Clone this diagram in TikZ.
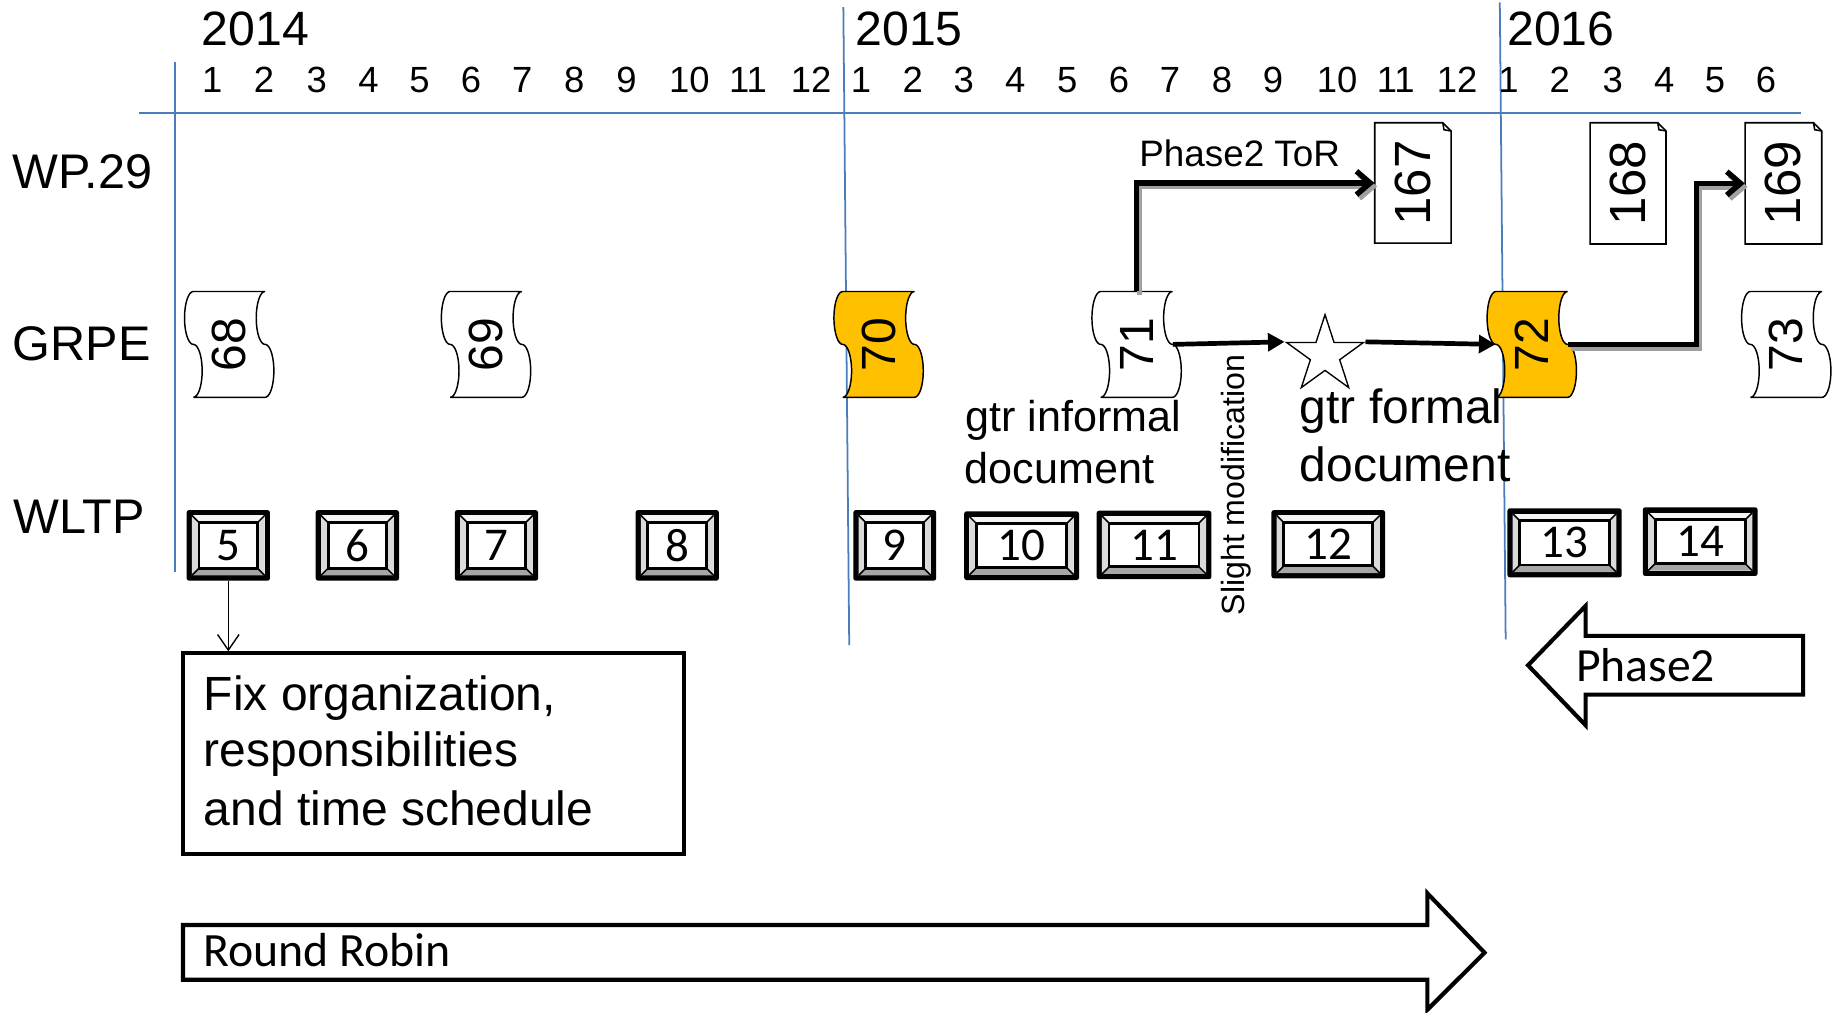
\documentclass[tikz,border=0pt]{standalone}
\usepackage{fontspec}
\setmainfont{Liberation Sans}
\newfontfamily\calfont{Carlito}
\usepackage{graphicx}
\usetikzlibrary{arrows.meta,shapes.geometric}
\definecolor{gridblue}{HTML}{4A7EBB}
\definecolor{docorange}{HTML}{FFC000}
\definecolor{shadowgray}{HTML}{A0A0A0}
\definecolor{bevlight}{HTML}{F4F4F4}
\definecolor{bevmid}{HTML}{DADADA}
\definecolor{bevdark}{HTML}{A6A6A6}

% punched-tape document (GRPE sessions): name, centre x, fill, label
% each wavy side is two half-ellipses (outward, then inward)
\newcommand{\tapedoc}[4]{%
  \filldraw[tapeline, fill=#3] (#2-30.5,248) -- (#2+30.5,248)
    -- plot[domain=0:180, samples=25, smooth, variable=\t] ({#2+30.5-7.5*sin(\t)},{248+22.5*(1-cos(\t))})
    -- plot[domain=0:180, samples=25, smooth, variable=\t] ({#2+30.5+7.5*sin(\t)},{293+22.5*(1-cos(\t))})
    -- (#2-30.5,338)
    -- plot[domain=0:180, samples=25, smooth, variable=\t] ({#2-30.5+7.5*sin(\t)},{338-22.5*(1-cos(\t))})
    -- plot[domain=0:180, samples=25, smooth, variable=\t] ({#2-30.5-7.5*sin(\t)},{293-22.5*(1-cos(\t))})
    -- cycle;
  \node[tapebox] (#1) at (#2,293) {\rotatebox{90}{#4}};
}
% note document (WP.29 sessions): name, x1, y1, x2, y2, label
\newcommand{\notedoc}[6]{%
  \filldraw[noteline, fill=white] (#2,#3) -- (#4-7,#3) -- (#4,#3+7) -- (#4,#5) -- (#2,#5) -- cycle;
  \draw[noteline] (#4-7,#3) -- (#4-6,#3+6) -- (#4,#3+7);
  \node[notebox, minimum width={(#4-#2)*0.6pt}, minimum height={(#5-#3)*0.6pt}] (#1) at ({(#2+#4)/2},{(#3+#5)/2}) {\rotatebox{90}{#6}};
}
% bevelled box (WLTP sessions): name, x1, y1, x2, y2, label
\newcommand{\wbox}[6]{%
  \fill[black, rounded corners=1.2pt] (#2,#3) rectangle (#4,#5);
  \fill[bevlight] (#2+4.5,#3+4.5) rectangle (#4-4.5,#5-4.5);
  \fill[bevmid] (#2+4.5,#3+4.5) -- (#2+10.5,#3+10.5) -- (#2+10.5,#5-10.5) -- (#2+4.5,#5-4.5) -- cycle;
  \fill[bevmid] (#4-4.5,#3+4.5) -- (#4-10.5,#3+10.5) -- (#4-10.5,#5-10.5) -- (#4-4.5,#5-4.5) -- cycle;
  \fill[bevdark] (#2+4.5,#5-4.5) -- (#2+10.5,#5-10.5) -- (#4-10.5,#5-10.5) -- (#4-4.5,#5-4.5) -- cycle;
  \draw[line width=0.8pt] (#2+4.5,#3+4.5) -- (#2+10.5,#3+10.5) (#4-4.5,#3+4.5) -- (#4-10.5,#3+10.5)
        (#2+4.5,#5-4.5) -- (#2+10.5,#5-10.5) (#4-4.5,#5-4.5) -- (#4-10.5,#5-10.5);
  \draw[line width=1.5pt, fill=white] (#2+10.5,#3+10.5) rectangle (#4-10.5,#5-10.5);
  \node[wnum, minimum width={(#4-#2)*0.6pt}, minimum height={(#5-#3)*0.6pt}] (#1) at ({(#2+#4)/2},{(#3+#5)/2}) {#6};
}

\begin{document}
\begin{tikzpicture}[x=0.6pt, y=-0.6pt,
  yearlbl/.style={font=\fontsize{24.6}{28}\selectfont, inner sep=0pt, anchor=west},
  monthlbl/.style={font=\fontsize{18.6}{22}\selectfont, inner sep=0pt},
  rowlbl/.style={font=\fontsize{24.8}{28}\selectfont, inner sep=0pt, anchor=west},
  gridline/.style={draw=gridblue, line width=0.9pt},
  tapeline/.style={draw=black, line width=0.75pt},
  tapebox/.style={inner sep=0pt, minimum width=36.6pt, minimum height=54pt, font=\fontsize{24.5}{26}\selectfont},
  noteline/.style={draw=black, line width=0.8pt},
  notebox/.style={inner sep=0pt, font=\fontsize{26}{28}\selectfont},
  wnum/.style={inner sep=0pt, font=\calfont\fontsize{24}{28}\selectfont},
  plainlbl/.style={inner sep=0pt, anchor=base west},
  boxline/.style={draw=black, line width=2.1pt},
  bigconn/.style={draw=black, line width=2.8pt, -{Straight Barb[length=7pt,width=12pt]}},
  bigshadow/.style={draw=shadowgray, line width=2.8pt, -{Straight Barb[length=7pt,width=12pt]}, transform canvas={shift={(1.5pt,-1.8pt)}}},
  midconn/.style={draw=black, line width=2.4pt, -{Triangle[length=8.5pt,width=9pt]}},
  thinconn/.style={draw=black, line width=0.7pt, -{Straight Barb[length=8pt,width=11pt]}},
]
\useasboundingbox (0,0) rectangle (1568,861);

% grid lines
\draw[gridline] (118.4,95.9) -- (1532.3,95.9);
\draw[gridline] (148.8,52.5) -- (148.8,486.4);
\draw[gridline] (717.5,6) -- (722.5,548.8);
\draw[gridline] (1276,2) -- (1281,544);

% years
\node[yearlbl] (y2014) at (171.5,24.8) {2014};
\node[yearlbl] (y2015) at (727.5,24.8) {2015};
\node[yearlbl] (y2016) at (1282,24.8) {2016};

% months
\foreach \m/\xx in {1/180.5,2/224.7,3/269.5,4/313.5,5/356.8,6/400.8,7/444.3,8/488.6,9/533,10/586.6,11/636.4,12/690}
  \node[monthlbl] (ma\m) at (\xx,67.8) {\m};
\foreach \m/\xx in {1/732.5,2/776.5,3/820,4/863.8,5/908,6/952,7/995.5,8/1039.7,9/1083,10/1137.5,11/1187.4,12/1239.6}
  \node[monthlbl] (mb\m) at (\xx,67.8) {\m};
\foreach \m/\xx in {1/1283.5,2/1327,3/1372,4/1416,5/1459,6/1502.5}
  \node[monthlbl] (mc\m) at (\xx,67.8) {\m};

% row labels
\node[rowlbl] (rwp) at (10.5,146) {WP.29};
\node[rowlbl] (rgrpe) at (10.5,292.4) {GRPE};
\node[rowlbl] (rwltp) at (11,439.6) {WLTP};

% GRPE sessions
\tapedoc{t68}{195}{white}{68}
\tapedoc{t69}{413.5}{white}{69}
\tapedoc{t70}{747.5}{docorange}{70}
\tapedoc{t71}{967}{white}{71}
\tapedoc{t72}{1303.2}{docorange}{72}
\tapedoc{t73}{1519.7}{white}{73}

% WP.29 sessions
\notedoc{w167}{1169.6}{104.4}{1234.5}{206.9}{167}
\notedoc{w168}{1352.8}{104.4}{1417.4}{207.6}{168}
\notedoc{w169}{1484.7}{104.4}{1549.9}{207.6}{169}

% WLTP sessions
\wbox{b5}{158.8}{434}{229.7}{494}{5}
\wbox{b6}{268.6}{434}{339.5}{494}{6}
\wbox{b7}{387}{434}{457.8}{494}{7}
\wbox{b8}{540.7}{434}{611.6}{494}{8}
\wbox{b9}{726}{434}{796.5}{494}{9}
\wbox{b10}{820.3}{435}{918}{493.5}{10}
\wbox{b11}{933}{434.5}{1030.6}{492.8}{11}
\wbox{b12}{1081.7}{434}{1178.4}{492}{12}
\wbox{b13}{1282.5}{432.5}{1379.7}{491.2}{13}
\wbox{b14}{1397.7}{431.6}{1495.3}{490}{14}

% star (gtr formal document)
\node[star, star points=5, star point ratio=2.618, minimum size={68.6*0.6pt}, inner sep=0pt,
      draw, line width=0.7pt, fill=white] (star) at (1127.3,302) {};

% connectors
\draw[bigshadow] (t71.north) |- (w167.west);
\draw[bigconn] (t71.north) |- (w167.west);
\coordinate (bend72) at (1443.5,0);
\draw[bigshadow] (t72.east) -| (bend72 |- w169.west) -- (w169.west);
\draw[bigconn] (t72.east) -| (bend72 |- w169.west) -- (w169.west);
\draw[midconn] (t71.east) -- (star.outer point 2);
\draw[midconn] (star.outer point 5) -- (t72.west);

% labels
\node[plainlbl, font=\fontsize{18.8}{22}\selectfont] (tor) at (969,142) {Phase2 ToR};
\node[plainlbl, font=\fontsize{22}{26}\selectfont] (gi1) at (821,367.5) {gtr informal};
\node[plainlbl, font=\fontsize{22}{26}\selectfont] (gi2) at (820.5,411) {document};
\node[plainlbl, font=\fontsize{24.5}{28}\selectfont] (gf1) at (1105.5,360) {gtr formal};
\node[plainlbl, font=\fontsize{24.5}{28}\selectfont] (gf2) at (1105.5,410) {document};
\node[rotate=90, inner sep=0pt, font=\fontsize{16.4}{20}\selectfont] (slight) at (1051.4,412.6) {Slight modification};

% Fix organization box
\node[boxline, minimum width={426*0.6pt}, minimum height={170.7*0.6pt}, inner sep=0pt] (fix) at (368.7,641.25) {};
\node[plainlbl, font=\fontsize{24.5}{29}\selectfont] (fix1) at (173,604.7) {Fix organization,};
\node[plainlbl, font=\fontsize{24.5}{29}\selectfont] (fix2) at (173,652.3) {responsibilities};
\node[plainlbl, font=\fontsize{24.5}{29}\selectfont] (fix3) at (173,702) {and time schedule};
\draw[thinconn] (b5.south) -- (b5.south |- fix.north);

% Round Robin block arrow
\draw[boxline] (155.7,787) -- (1214.4,787) -- (1214.4,760) -- (1263,810.5) -- (1214.4,859)
  -- (1214.4,833.5) -- (155.7,833.5) -- cycle;
\node[plainlbl, font=\calfont\fontsize{24.4}{28}\selectfont] (rr) at (172.5,822) {Round Robin};

% Phase2 block arrow
\draw[boxline] (1300,566) -- (1349,515.5) -- (1349,541) -- (1534,541) -- (1534,591)
  -- (1349,591) -- (1349,617) -- cycle;
\node[plainlbl, font=\calfont\fontsize{24.3}{28}\selectfont] (ph2) at (1340.5,580) {Phase2};
\end{tikzpicture}
\end{document}
